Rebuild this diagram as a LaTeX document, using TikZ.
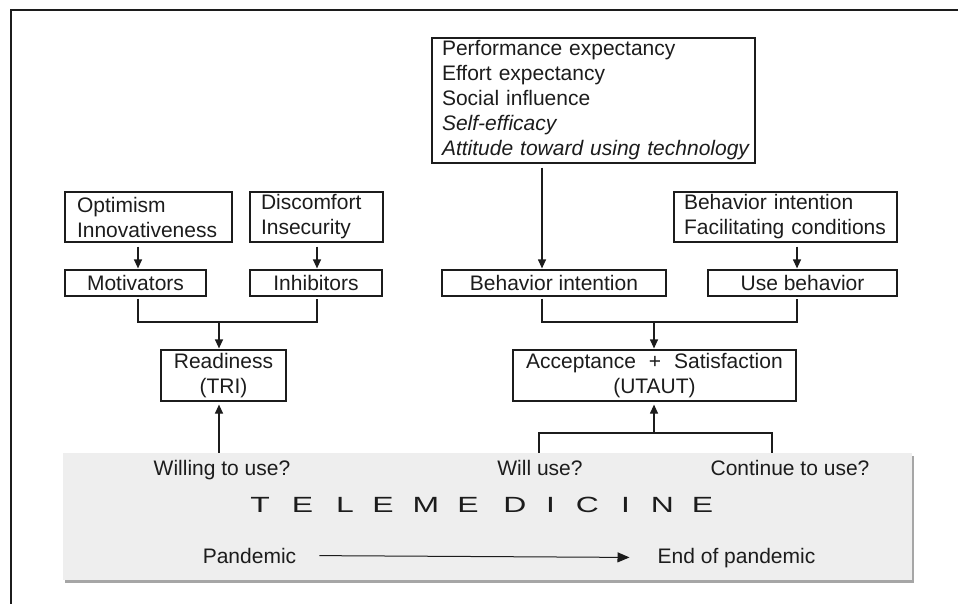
\documentclass[tikz,border=0pt]{standalone}
\usepackage{fontspec}
\setmainfont{Liberation Sans}
\newfontfamily\widefont[FakeStretch=1.45]{Liberation Sans}
\usetikzlibrary{arrows.meta,calc,shadows}
\definecolor{ink}{HTML}{1C1C1C}
\definecolor{panel}{HTML}{EEEEEE}
\begin{document}
\begin{tikzpicture}[x=1pt,y=-1pt,
  font=\fontsize{21}{25}\selectfont,
  box/.style={draw=ink, line width=1.2pt, inner ysep=0pt, text=ink},
  lbox/.style={box, align=left},
  cbox/.style={box, align=center, inner xsep=0pt},
  lbl/.style={anchor=base, text=ink, inner sep=2pt},
  arr/.style={draw=ink, line width=1.2pt, -{Triangle[length=9pt,width=8pt]}},
  ln/.style={draw=ink, line width=1.2pt},
  letter/.style={anchor=base, text=ink, inner sep=0pt, font=\widefont\fontsize{22}{22}\selectfont}]
\useasboundingbox (0,0) rectangle (958,604);
\draw[line width=1.5pt, ink] (11,604) -- (11,10) -- (958,10);

% top UTAUT factor box
\node[lbox, text width=303pt, inner xsep=10pt, minimum height=125pt] (ut) at (593.5,100.5)
  {Performance expectancy\\Effort expectancy\\Social influence\\\textit{Self-efficacy}\\\mbox{\textit{Attitude toward using technology}}};
\node[lbox, text width=143pt, inner xsep=12pt, minimum height=50pt] (opt) at (148.5,217) {Optimism\\Innovativeness};
\node[lbox, text width=111pt, inner xsep=11pt, minimum height=50pt] (dis) at (316.5,217) {Discomfort\\Insecurity};
\node[lbox, text width=203pt, inner xsep=10pt, minimum height=50pt] (fc) at (785.5,217) {Behavior intention\\Facilitating conditions};

\node[cbox, minimum width=141pt, minimum height=26pt] (mot) at (135.5,283) {Motivators};
\node[cbox, minimum width=132pt, minimum height=26pt] (inh) at (316,283) {Inhibitors};
\node[cbox, minimum width=224pt, minimum height=26pt] (bi) at (554,283) {Behavior intention};
\node[cbox, minimum width=189pt, minimum height=26pt] (ub) at (802.5,283) {Use behavior};

\node[cbox, minimum width=125pt, minimum height=51pt] (rd) at (223.5,375.5) {Readiness\\(TRI)};
\node[cbox, minimum width=283pt, minimum height=51pt] (acc) at (654.5,375.5) {Acceptance\hspace{13pt}+\hspace{13pt}Satisfaction\\(UTAUT)};

% telemedicine panel
\node[fill=panel, minimum width=849pt, minimum height=127pt, inner sep=0pt,
  drop shadow={shadow xshift=1.5pt, shadow yshift=-3pt, fill=black!50, opacity=0.7}] (tele) at (487.5,516.5) {};
\node[lbl] (wil) at (222,475) {Willing to use?};
\node[lbl] (wu) at (540,475) {Will use?};
\node[lbl] (cu) at (790,475) {Continue to use?};
\node[lbl] (pan) at (249.5,563) {Pandemic};
\node[lbl] (eop) at (736.5,563) {End of pandemic};
\foreach \l/\x [count=\i] in {T/260,E/302.5,L/345,E/383,M/426,E/468,D/515,I/550.5,C/587.5,I/625.5,N/662.5,E/702.5}
  \node[letter] (t\i) at (\x,512) {\l};
\draw[draw=ink, line width=1pt, -{Triangle[length=12pt,width=10pt]}, shorten <=21pt, shorten >=26pt] (pan.east) -- (eop.west);

% x / y guides for connectors
\coordinate (xa) at (138,0);
\coordinate (xb) at (317,0);
\coordinate (xc) at (219,0);
\coordinate (xd) at (542,0);
\coordinate (xe) at (797,0);
\coordinate (xf) at (654,0);
\coordinate (xg) at (539,0);
\coordinate (xh) at (772,0);
\coordinate (ya) at (0,322);
\coordinate (yb) at (0,433);

\draw[arr, shorten <=4pt, shorten >=1pt] (opt.south -| xa) -- (mot.north -| xa);
\draw[arr, shorten <=4pt, shorten >=1pt] (dis.south -| xb) -- (inh.north -| xb);
\draw[arr, shorten <=4pt, shorten >=1pt] (ut.south -| xd) -- (bi.north -| xd);
\draw[arr, shorten <=4pt, shorten >=1pt] (fc.south -| xe) -- (ub.north -| xe);

\draw[ln, shorten <=2pt, shorten >=2pt] (mot.south -| xa) -- (xa |- ya) -- (xb |- ya) -- (inh.south -| xb);
\draw[arr, shorten >=1pt] (xc |- ya) -- (rd.north -| xc);
\draw[ln, shorten <=2pt, shorten >=2pt] (bi.south -| xd) -- (xd |- ya) -- (xe |- ya) -- (ub.south -| xe);
\draw[arr, shorten >=1pt] (xf |- ya) -- (acc.north -| xf);

\draw[arr, shorten >=3pt] (tele.north -| xc) -- (rd.south -| xc);
\draw[ln] (tele.north -| xg) -- (xg |- yb) -- (xh |- yb) -- (tele.north -| xh);
\draw[arr, shorten >=3pt] (xf |- yb) -- (acc.south -| xf);
\end{tikzpicture}
\end{document}
